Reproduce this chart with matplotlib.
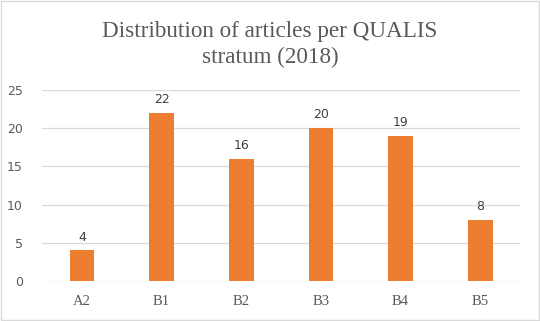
import matplotlib
matplotlib.use("Agg")
import matplotlib.pyplot as plt
from matplotlib.patches import Rectangle

strata = ["A2", "B1", "B2", "B3", "B4", "B5"]
articles = [4, 22, 16, 20, 19, 8]
yticks = [0, 5, 10, 15, 20, 25]

fig = plt.figure(figsize=(5.4, 3.21), dpi=100)
ax = fig.add_axes([0.078, 0.1246, 0.885, 0.595])

x = list(range(len(strata)))
ax.bar(x, articles, width=0.31, color="#ED7D31", zorder=3)
for xi, v in zip(x, articles):
    ax.text(xi, v + 0.9, str(v), ha="center", va="bottom",
            fontsize=9, color="#404040", family="DejaVu Sans")

ax.set_xlim(-0.5, len(strata) - 0.5)
ax.set_ylim(0, 25)
ax.set_yticks(yticks)
ax.set_yticklabels([str(t) for t in yticks], fontsize=9, color="#595959",
                   family="DejaVu Sans")
ax.set_xticks(x)
ax.set_xticklabels(strata, fontsize=10.5, color="#595959", family="Liberation Serif")
ax.tick_params(axis="x", length=0, pad=10)
ax.tick_params(axis="y", length=0, pad=14)
ax.grid(axis="y", color="#D9D9D9", linewidth=0.9, zorder=0)
for s in ax.spines.values():
    s.set_visible(False)

fig.text(0.5, 0.862, "Distribution of articles per QUALIS\nstratum (2018)",
         ha="center", va="center", fontsize=16.7, color="#595959",
         family="Liberation Serif", linespacing=1.32)

fig.patches.append(Rectangle((0.002, 0.003), 0.996, 0.994, transform=fig.transFigure,
                             fill=False, edgecolor="#D9D9D9", linewidth=1))

fig.savefig("out.png", dpi=100)
